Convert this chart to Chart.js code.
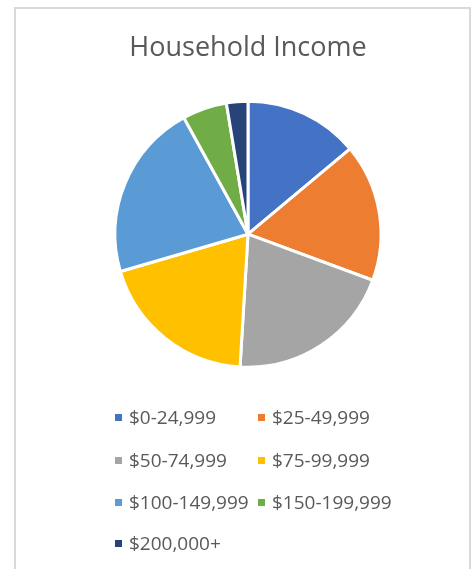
<!DOCTYPE html>
<html>
<head>
<meta charset="utf-8">
<title>Household Income</title>
<script src="https://cdn.jsdelivr.net/npm/chart.js@4"></script>
<style>
  html, body { margin: 0; padding: 0; background: #fff; overflow: hidden; }
  body { width: 476px; height: 569px; position: relative; font-family: "Open Sans", sans-serif; }
  .marco { position: absolute; left: 14px; top: 7px; width: 457px; height: 620px;
           box-sizing: border-box; border: 2px solid #d9d9d9; }
  .grafica { position: absolute; left: 20px; top: 0; width: 456px; height: 380px; }
  #leyenda { position: absolute; left: 0; top: 0; width: 476px; height: 569px; pointer-events: none; }
  .item { position: absolute; display: flex; align-items: center; height: 26px;
          font-size: 19px; color: #595959; white-space: nowrap; pointer-events: auto; cursor: pointer; }
  .item .caja { width: 7px; height: 7px; margin-right: 7px; flex: none; }
  .item.oculto { text-decoration: line-through; }
</style>
</head>
<body>
<div class="marco"></div>
<div class="grafica"><canvas id="graficaIngresos"></canvas></div>
<div id="leyenda"></div>

<script>
// Datos (porcentaje de hogares por tramo)
const categorias = ['$0-24,999', '$25-49,999', '$50-74,999', '$75-99,999',
                    '$100-149,999', '$150-199,999', '$200,000+'];
const porcentajes = [13.9, 16.7, 20.3, 19.5, 21.5, 5.4, 2.6];
const colores = ['#4472C4', '#ED7D31', '#A5A5A5', '#FFC000', '#5B9BD5', '#70AD47', '#264478'];

// posiciones de la leyenda en dos columnas (x de la caja, centro y de la fila)
const columnasX = [115, 258];
const filasY = [417, 460, 502, 543];

// Leyenda en HTML para poder alinear las dos columnas
const leyendaHtml = {
  id: 'leyendaHtml',
  afterUpdate(chart) {
    const cont = document.getElementById('leyenda');
    cont.innerHTML = '';
    const items = chart.options.plugins.legend.labels.generateLabels(chart);
    items.forEach((item, i) => {
      const div = document.createElement('div');
      div.className = 'item' + (item.hidden ? ' oculto' : '');
      div.style.left = columnasX[i % 2] + 'px';
      div.style.top = (filasY[Math.floor(i / 2)] - 13) + 'px';
      const caja = document.createElement('span');
      caja.className = 'caja';
      caja.style.background = item.fillStyle;
      const texto = document.createElement('span');
      texto.textContent = item.text;
      div.appendChild(caja);
      div.appendChild(texto);
      div.addEventListener('click', () => {
        chart.toggleDataVisibility(item.index);
        chart.update();
      });
      cont.appendChild(div);
    });
  }
};

const ctx = document.getElementById('graficaIngresos').getContext('2d');
const graficaIngresos = new Chart(ctx, {
  type: 'pie',
  data: {
    labels: categorias,
    datasets: [{
      data: porcentajes,
      backgroundColor: colores,
      borderColor: '#ffffff',
      borderWidth: 3,
      hoverOffset: 0
    }]
  },
  options: {
    responsive: true,
    maintainAspectRatio: false,
    animation: false,
    radius: 133,
    layout: { padding: 0 },
    plugins: {
      legend: { display: false },
      tooltip: { enabled: true },
      title: {
        display: true,
        text: 'Household Income',
        color: '#595959',
        font: { family: '"Open Sans", sans-serif', size: 27, weight: 'normal', lineHeight: 1.2 },
        padding: { top: 32, bottom: 24 }
      }
    }
  },
  plugins: [leyendaHtml]
});
</script>
</body>
</html>
